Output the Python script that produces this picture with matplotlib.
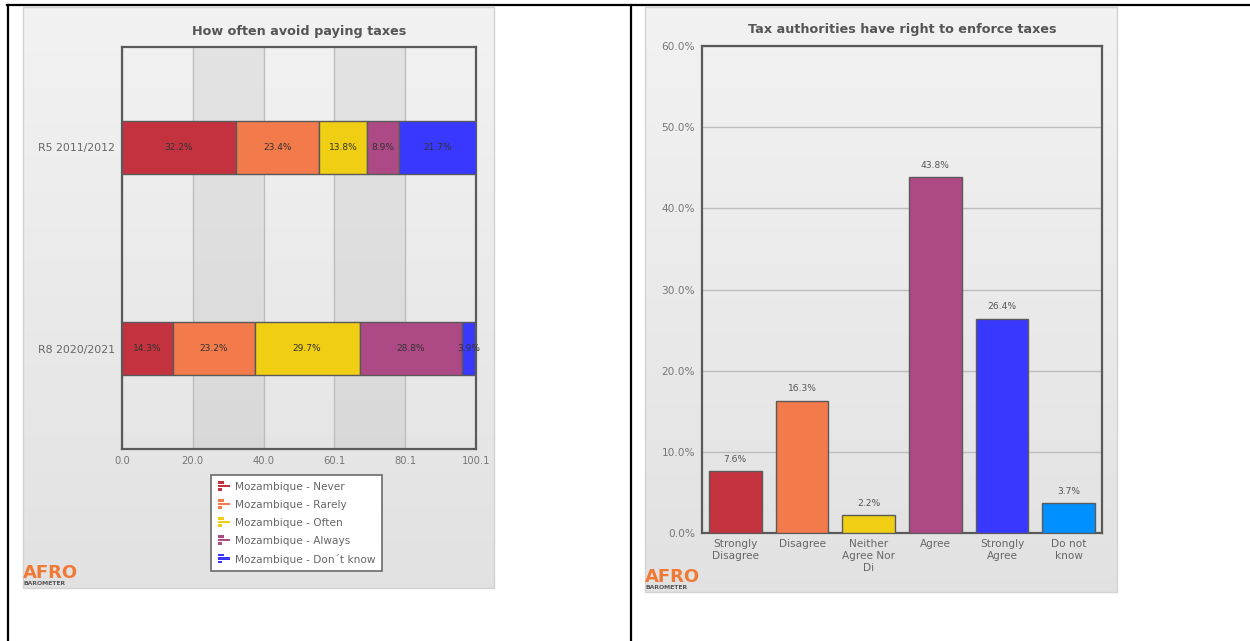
import matplotlib
matplotlib.use('Agg')
import matplotlib.pyplot as plt
import numpy as np
from matplotlib.lines import Line2D
from matplotlib.patches import Rectangle
from matplotlib.legend_handler import HandlerBase

# How often avoid paying taxes (stacked, percent)
rounds = ['R5 2011/2012', 'R8 2020/2021']
answers = ['Never', 'Rarely', 'Often', 'Always', 'Don´t know']
never = [32.2, 14.3]
rarely = [23.4, 23.2]
often = [13.8, 29.7]
always = [8.9, 28.8]
dont_know = [21.7, 3.9]

# Tax authorities have right to enforce taxes (percent)
tax_labels = ['Strongly\nDisagree', 'Disagree', 'Neither\nAgree Nor\nDi', 'Agree', 'Strongly\nAgree', 'Do not\nknow']
tax_values = [7.6, 16.3, 2.2, 43.8, 26.4, 3.7]

avoid_colors = ['#C4323F', '#F27A4B', '#F0CE13', '#AD4A85', '#3838FF']
tax_colors = ['#C4323F', '#F27A4B', '#F0CE13', '#AD4A85', '#3838FF', '#0090FF']

W, H = 1250, 641
FRAME = '#5A5A5A'


def box(x0, y0, x1, y1):
    # pixel box (top-left origin) -> figure fraction rect
    return [x0 / W, 1 - y1 / H, (x1 - x0) / W, (y1 - y0) / H]


class BarIconHandler(HandlerBase):
    # little horizontal bar chart glyph used as legend key
    def create_artists(self, legend, orig_handle, xdescent, ydescent, width, height, fontsize, trans):
        color = orig_handle.get_facecolor()
        bh = height * 0.27
        rows = [(0.5, height * 0.78), (1.0, height * 0.42), (0.3, height * 0.06)]
        arts = []
        for frac, yb in rows:
            r = Rectangle((-xdescent, yb - ydescent), width * frac, bh, facecolor=color, edgecolor='none', transform=trans)
            arts.append(r)
        return arts


def draw_panel(fig, x0, y0, x1, y1):
    bg = fig.add_axes(box(x0, y0, x1, y1), zorder=0)
    grad = np.linspace(0.95, 0.885, 200).reshape(-1, 1)
    bg.imshow(np.dstack([grad, grad, grad]), aspect='auto', extent=[0, 1, 0, 1])
    bg.set_axis_off()
    bg.add_patch(Rectangle((0, 0), 1, 1, fill=False, edgecolor='#D2D2D2', lw=1, transform=bg.transAxes, clip_on=False))


def draw_logo(fig, x, y):
    fig.text(x / W, 1 - y / H, 'AFRO', color='#F07A35', fontsize=13, fontweight='bold', va='baseline', ha='left')
    fig.text((x + 1) / W, 1 - (y + 7) / H, 'BAROMETER', color='#555555', fontsize=4.4, fontweight='bold', va='baseline', ha='left')


def style_frame(ax):
    for s in ax.spines.values():
        s.set_color(FRAME)
        s.set_linewidth(1.6)


def avoid_taxes_chart(fig):
    ax = fig.add_axes(box(122, 47, 476, 449), zorder=1)
    ax.set_facecolor('none')
    ticks = np.linspace(0, 100.1, 6)
    ax.set_xlim(0, 100.1)
    ax.set_ylim(1.5, -0.5)
    for i in (1, 3):
        ax.axvspan(ticks[i], ticks[i + 1], color='black', alpha=0.055, lw=0, zorder=0)
    ax.set_xticks(ticks)
    ax.set_xticklabels([f'{t:.1f}' for t in ticks])
    ax.set_yticks(range(len(rounds)))
    ax.set_yticklabels(rounds)
    ax.grid(axis='x', color='#BDBDBD', lw=1)
    ax.set_axisbelow(True)
    ax.tick_params(axis='x', length=0, labelsize=7.2, labelcolor='#777777', pad=5)
    ax.tick_params(axis='y', length=0, labelsize=7.8, labelcolor='#666666', pad=5)
    style_frame(ax)

    y = np.arange(len(rounds))
    left = np.zeros(len(rounds))
    series = [never, rarely, often, always, dont_know]
    handles = []
    for name, vals, c in zip(answers, series, avoid_colors):
        vals = np.array(vals)
        b = ax.barh(y, vals, left=left, height=0.265, color=c, edgecolor=FRAME, lw=1, label='Mozambique - ' + name, zorder=3)
        handles.append(b.patches[0])
        for yi, l, v in zip(y, left, vals):
            ax.text(l + v / 2, yi, f'{v:.1f}%', ha='center', va='center', fontsize=6.5, color='#333333', zorder=4)
        left += vals

    ax.set_title('How often avoid paying taxes', fontsize=9.2, fontweight='bold', color='#555555', pad=9)

    leg = fig.legend(handles, ['Mozambique - ' + a for a in answers], loc='upper left',
                     bbox_to_anchor=(211 / W, 1 - 475 / H), handler_map={Rectangle: BarIconHandler()},
                     fontsize=7.6, labelcolor='#666666', frameon=True, fancybox=False, shadow=False,
                     framealpha=1, handlelength=1.15, handleheight=1.0, handletextpad=0.45,
                     labelspacing=0.72, borderpad=0.65, borderaxespad=0)
    leg.get_frame().set_edgecolor('#6A6A6A')
    leg.get_frame().set_linewidth(1.2)
    leg.set_zorder(5)


def enforce_taxes_chart(fig):
    ax = fig.add_axes(box(702, 46, 1102, 533), zorder=1)
    ax.set_facecolor('none')
    x = np.arange(len(tax_labels))
    ax.set_xlim(-0.5, len(tax_labels) - 0.5)
    ax.set_ylim(0, 60)
    yt = np.arange(0, 61, 10)
    ax.set_yticks(yt)
    ax.set_yticklabels([f'{t:.1f}%' for t in yt])
    ax.set_xticks(x)
    ax.set_xticklabels(tax_labels, linespacing=1.25)
    ax.grid(axis='y', color='#BDBDBD', lw=1)
    ax.set_axisbelow(True)
    ax.tick_params(axis='y', length=0, labelsize=7.6, labelcolor='#777777', pad=5)
    ax.tick_params(axis='x', length=0, labelsize=7.6, labelcolor='#666666', pad=4)
    style_frame(ax)

    bars = ax.bar(x, tax_values, width=0.79, color=tax_colors, edgecolor=FRAME, lw=1, zorder=3)
    for b, v in zip(bars, tax_values):
        ax.annotate(f'{v:.1f}%', (b.get_x() + b.get_width() / 2, v), xytext=(0, 8.5),
                    textcoords='offset points', ha='center', va='center', fontsize=6.6, color='#555555')

    ax.set_title('Tax authorities have right to enforce taxes', fontsize=9.2, fontweight='bold', color='#555555', pad=9)


def main():
    fig = plt.figure(figsize=(W / 100, H / 100), dpi=100)
    fig.patch.set_facecolor('white')

    # table borders around the two cells
    fig.add_artist(Line2D([7 / W, 1], [1 - 5 / H] * 2, color='black', lw=1.6))
    fig.add_artist(Line2D([8 / W] * 2, [0, 1 - 5 / H], color='black', lw=1.6))
    fig.add_artist(Line2D([631 / W] * 2, [0, 1 - 5 / H], color='black', lw=1.6))

    draw_panel(fig, 23, 7, 494, 588)
    draw_panel(fig, 645, 7, 1117, 592)

    avoid_taxes_chart(fig)
    enforce_taxes_chart(fig)

    draw_logo(fig, 23, 578)
    draw_logo(fig, 645, 582)

    fig.savefig('out.png', dpi=100)


if __name__ == "__main__":
    main()
